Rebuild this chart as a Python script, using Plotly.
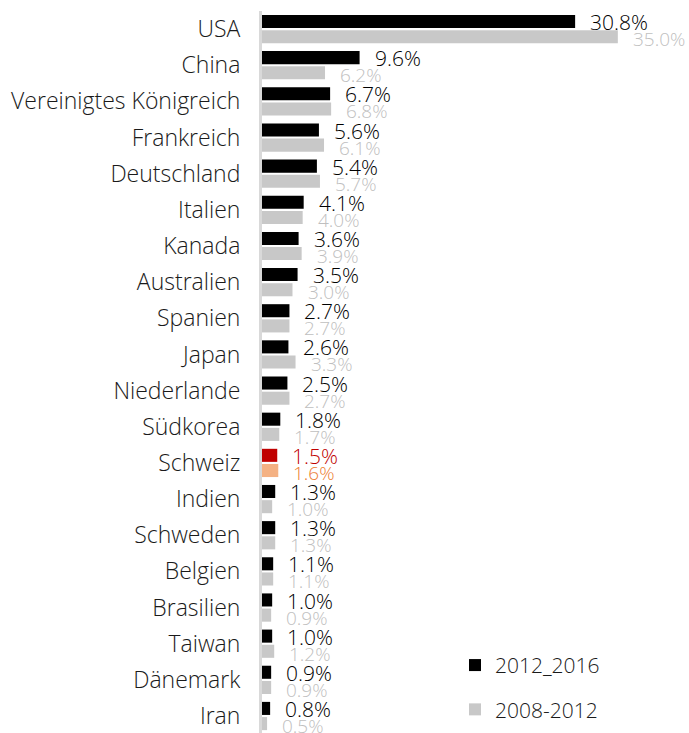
import plotly.graph_objects as go

countries = ["USA", "China", "Vereinigtes Königreich", "Frankreich", "Deutschland",
             "Italien", "Kanada", "Australien", "Spanien", "Japan", "Niederlande",
             "Südkorea", "Schweiz", "Indien", "Schweden", "Belgien", "Brasilien",
             "Taiwan", "Dänemark", "Iran"]
share_2012_2016 = [30.8, 9.6, 6.7, 5.6, 5.4, 4.1, 3.6, 3.5, 2.7, 2.6, 2.5,
                   1.8, 1.5, 1.3, 1.3, 1.1, 1.0, 1.0, 0.9, 0.8]
share_2008_2012 = [35.0, 6.2, 6.8, 6.1, 5.7, 4.0, 3.9, 3.0, 2.7, 3.3, 2.7,
                   1.7, 1.6, 1.0, 1.3, 1.1, 0.9, 1.2, 0.9, 0.5]
series_names = ["2012_2016", "2008-2012"]

highlight = "Schweiz"

def colors(base, special):
    return [special if c == highlight else base for c in countries]

bar_new = colors("#000000", "#c00000")
bar_old = colors("#c8c8c8", "#f4b183")
txt_new = colors("#000000", "#c00000")
txt_old = colors("#bfbfbf", "#ed7d31")

FONT = "Open Sans"
WEIGHT = 300

fig = go.Figure()
fig.add_trace(go.Bar(
    y=countries, x=share_2012_2016, orientation="h", name=series_names[0],
    marker=dict(color=bar_new, line=dict(width=0)),
    cliponaxis=False, legendgroup="a",
))
fig.add_trace(go.Bar(
    y=countries, x=share_2008_2012, orientation="h", name=series_names[1],
    marker=dict(color=bar_old, line=dict(width=0)),
    cliponaxis=False, legendgroup="b",
))

# value labels to the right of each bar; newer period above, older (smaller) below
annotations = []
for series, tcolors, dy, size in ((share_2012_2016, txt_new, 7, 21),
                                  (share_2008_2012, txt_old, -10, 19)):
    for country, value, col in zip(countries, series, tcolors):
        annotations.append(dict(
            x=value, y=country, xref="x", yref="y",
            text=f"{value:.1f}%", showarrow=False,
            xanchor="left", yanchor="middle", xshift=13, yshift=dy,
            font=dict(family=FONT, size=size, color=col, weight=WEIGHT),
        ))

fig.update_layout(
    width=689, height=733,
    margin=dict(l=262, r=0, t=11, b=0),
    paper_bgcolor="white", plot_bgcolor="white",
    barmode="group", bargap=0.16, bargroupgap=0.14,
    font=dict(family=FONT, color="#1a1a1a", weight=WEIGHT),
    xaxis=dict(range=[0, 42], visible=False, showgrid=False, zeroline=False),
    yaxis=dict(range=[19.47, -0.5], showgrid=False, zeroline=False,
               showline=True, linecolor="#d9d9d9", linewidth=3,
               ticks="", ticklabelstandoff=14,
               tickfont=dict(family=FONT, size=23, color="#1a1a1a", weight=WEIGHT)),
    annotations=annotations,
    showlegend=True,
    legend=dict(x=0.452, y=0.122, xanchor="left", yanchor="top",
                traceorder="grouped", tracegroupgap=14,
                font=dict(family=FONT, size=21, color="#1a1a1a", weight=WEIGHT),
                bgcolor="rgba(0,0,0,0)", itemwidth=30),
)

fig.write_html("out.html")
